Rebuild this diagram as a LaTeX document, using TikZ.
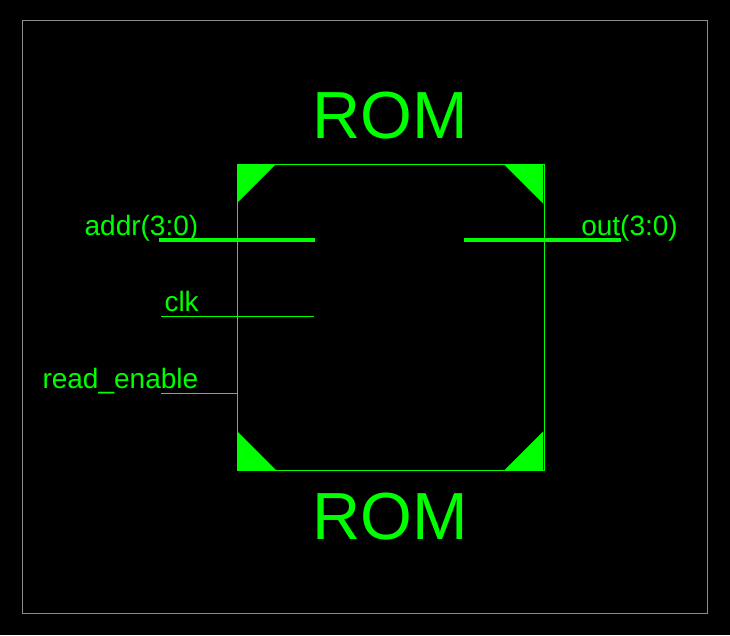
\documentclass[tikz,border=0pt]{standalone}
\usepackage{fontspec}
\setmainfont{Liberation Sans}
\usetikzlibrary{positioning}
\definecolor{romgreen}{RGB}{0,255,0}
\definecolor{framegray}{RGB}{140,140,140}
\tikzset{
  pinlabel/.style={text=romgreen, font=\fontsize{21pt}{24pt}\selectfont, inner sep=0pt, anchor=base east},
  titlelabel/.style={text=romgreen, font=\fontsize{50pt}{56pt}\selectfont, inner sep=0pt, anchor=base},
  thinwire/.style={romgreen, line width=0.75pt},
  buswire/.style={romgreen, line width=3pt}
}
\begin{document}
\begin{tikzpicture}[x=0.75pt, y=-0.75pt]
  \fill[black] (0,0) rectangle (730,635);
  \useasboundingbox (0,0) rectangle (730,635);
  \draw[framegray, line width=0.75pt] (22.5,20.5) rectangle (707.5,613.5);
  % chip body
  \coordinate (nw) at (237.5,164.5);
  \coordinate (ne) at (544.5,164.5);
  \coordinate (se) at (544.5,470.5);
  \coordinate (sw) at (237.5,470.5);
  \draw[thinwire] (nw) -- (ne) -- (se) -- (sw) -- cycle;
  \fill[romgreen] (nw) -- ++(38,0) -- ++(-38,38) -- cycle;
  \fill[romgreen] (543,164.5) -- ++(-39,0) -- ++(39,39) -- cycle;
  \fill[romgreen] (543,470.5) -- ++(-39,0) -- ++(39,-39) -- cycle;
  \fill[romgreen] (sw) -- ++(39,0) -- ++(-39,-39) -- cycle;
  % titles
  \node[titlelabel] (titletop) at (390,138) {ROM};
  \node[titlelabel] (titlebot) at (390,539) {ROM};
  % pins
  \node[pinlabel] (addrlabel) at (198.5,235) {addr(3:0)};
  \node[pinlabel] (clklabel) at (199,311) {clk};
  \node[pinlabel] (readlabel) at (198.5,388) {read\_enable};
  \node[pinlabel, anchor=base west] (outlabel) at (581,235) {out(3:0)};
  \coordinate (addrin) at (159,240);
  \coordinate (addrend) at (315,240);
  \coordinate (outin) at (464,240);
  \coordinate (outend) at (621,240);
  \coordinate (clkin) at (161,316.5);
  \coordinate (clkend) at (314,316.5);
  \coordinate (readin) at (161,393.5);
  \coordinate (readend) at (237.5,393.5);
  \draw[buswire] (addrin) -- (addrend);
  \draw[buswire] (outin) -- (outend);
  \draw[thinwire] (clkin) -- (clkend);
  \draw[thinwire] (readin) -- (readend);
\end{tikzpicture}
\end{document}
